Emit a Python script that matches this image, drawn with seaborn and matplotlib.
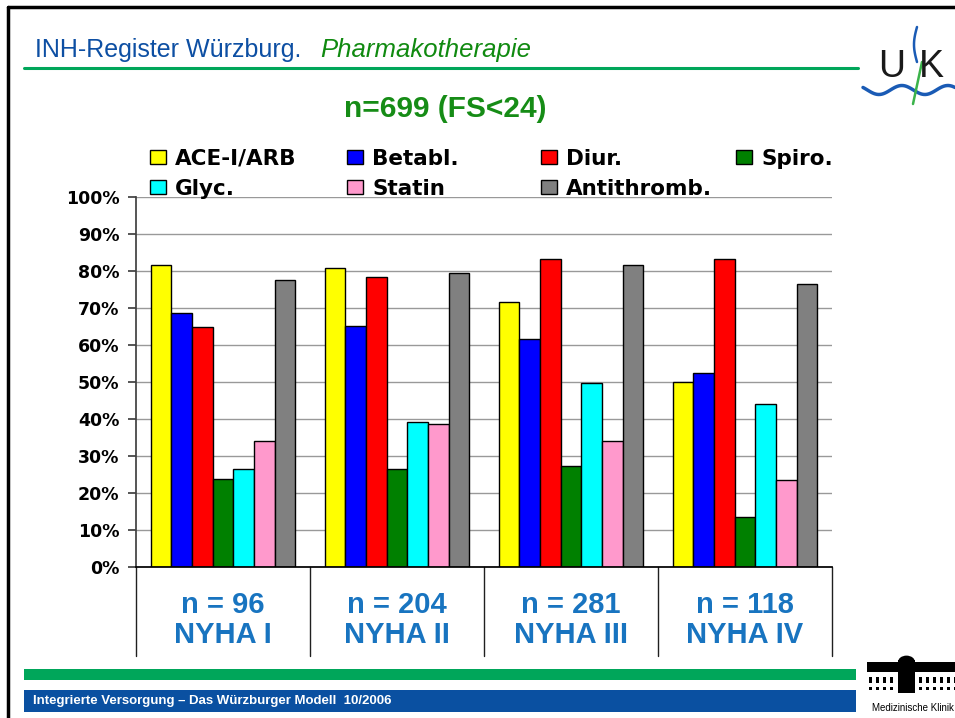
import numpy as np
import pandas as pd
import matplotlib
matplotlib.use("Agg")
import matplotlib.pyplot as plt
import seaborn as sns
from matplotlib.lines import Line2D
from matplotlib.patches import Rectangle, Wedge

# values in percent
groups = ["n = 96\nNYHA I", "n = 204\nNYHA II", "n = 281\nNYHA III", "n = 118\nNYHA IV"]
drugs = ["ACE-I/ARB", "Betabl.", "Diur.", "Spiro.", "Glyc.", "Statin", "Antithromb."]
ace_arb = [81.5, 80.9, 71.7, 50.0]
betabl = [68.6, 65.2, 61.7, 52.4]
diur = [64.8, 78.5, 83.2, 83.2]
spiro = [23.9, 26.4, 27.4, 13.6]
glyc = [26.6, 39.1, 49.7, 44.0]
statin = [34.0, 38.7, 34.0, 23.6]
antithromb = [77.7, 79.4, 81.5, 76.4]
colors = ["#FFFF00", "#0000FF", "#FF0000", "#008000", "#00FFFF", "#FF99CC", "#808080"]

series = [ace_arb, betabl, diur, spiro, glyc, statin, antithromb]
rows = []
for drug, vals in zip(drugs, series):
    for g, v in zip(groups, vals):
        rows.append({"group": g, "drug": drug, "value": v})
df = pd.DataFrame(rows)

sns.set_theme(style="white")
plt.rcParams["font.family"] = ["DejaVu Sans"]
plt.rcParams["text.color"] = "black"
plt.rcParams["ytick.color"] = "black"
plt.rcParams["xtick.color"] = "black"

W, H = 955, 718
fig = plt.figure(figsize=(W / 100, H / 100), dpi=100)
fig.patch.set_facecolor("white")


def fx(px):
    return px / W


def fy(py):
    return 1 - py / H


ax = fig.add_axes([fx(136), fy(567), fx(832) - fx(136), fy(197) - fy(567)])
sns.barplot(data=df, x="group", y="value", hue="drug", order=groups, hue_order=drugs,
            palette=colors, width=0.83, edgecolor="black", linewidth=1,
            saturation=1, ax=ax)
handles, labels = ax.get_legend_handles_labels()
ax.get_legend().remove()

ax.set_ylim(0, 100)
ax.set_xlim(-0.5, 3.5)
ax.set_yticks(np.arange(0, 101, 10))
ax.set_yticklabels([f"{t}%" for t in range(0, 101, 10)], fontsize=12.5, fontweight="bold",
                   family="DejaVu Sans", color="black")
ax.yaxis.grid(True, color="#999999", linewidth=1)
ax.set_axisbelow(True)
ax.set_xlabel("")
ax.set_ylabel("")
for s in ["top", "right"]:
    ax.spines[s].set_visible(False)
ax.spines["left"].set_color("#404040")
ax.spines["bottom"].set_color("black")
ax.tick_params(axis="y", left=True, length=6, color="#404040", pad=6)
ax.tick_params(axis="x", length=0, pad=17)
for t in ax.get_xticklabels():
    t.set_fontsize(21)
    t.set_fontweight("bold")
    t.set_color("#1874C0")
    t.set_family(["Liberation Sans", "DejaVu Sans"])
    t.set_linespacing(1.1)
# separators of the category boxes under the axis
for b in [-0.5, 0.5, 1.5, 2.5, 3.5]:
    ax.plot([b, b], [0, -24], color="#202020", lw=1, clip_on=False)

# legend, four columns placed like on the slide
order = {lab: h for h, lab in zip(handles, labels)}
cols = [(["ACE-I/ARB", "Glyc."], 150), (["Betabl.", "Statin"], 347),
        (["Diur.", "Antithromb."], 541), (["Spiro."], 736)]
for labs, x0 in cols:
    fig.legend([order[l] for l in labs], labs, loc="upper left",
               bbox_to_anchor=(fx(x0), fy(149)), frameon=False,
               prop={"family": "DejaVu Sans", "weight": "bold", "size": 15.5},
               labelcolor="black",
               handlelength=0.72, handleheight=0.62, handletextpad=0.45,
               labelspacing=0.45, borderpad=0, borderaxespad=0)

# slide frame
fig.add_artist(Line2D([fx(8), fx(955)], [fy(7), fy(7)], color="black", lw=2.5))
fig.add_artist(Line2D([fx(8), fx(8)], [fy(7), fy(718)], color="black", lw=2.5))

# header
sans = ["Liberation Sans", "DejaVu Sans"]
fig.text(fx(35), fy(57), "INH-Register Würzburg.", color="#0D4FA3", fontsize=18,
         family=sans, va="baseline")
fig.text(fx(320), fy(57), "Pharmakotherapie", color="#108A10", fontsize=18.5,
         family=sans, style="italic", va="baseline")
fig.add_artist(Line2D([fx(24), fx(858)], [fy(68), fy(68)], color="#00A65A", lw=2.2))
fig.text(fx(445), fy(117), "n=699 (FS<24)", color="#168C16", fontsize=21.5,
         family=sans, weight="bold", ha="center", va="baseline")

# UK logo
fig.text(fx(892), fy(77), "U", fontsize=27, family=sans, color="#1A1A1A", ha="center", va="baseline")
fig.text(fx(931), fy(77), "K", fontsize=27, family=sans, color="#1A1A1A", ha="center", va="baseline")
wx = np.linspace(863, 955, 60)
wy = 90 + 4.5 * np.sin((wx - 863) / 92 * 4 * np.pi - 0.6)
fig.add_artist(Line2D(fx(wx), fy(wy), color="#1A5BB5", lw=2.5))
sy = np.linspace(27, 62, 20)
fig.add_artist(Line2D(fx(917 - 3 * np.sin((sy - 27) / 35 * np.pi)), fy(sy), color="#1A5BB5", lw=1.8))
sy2 = np.linspace(62, 104, 20)
fig.add_artist(Line2D(fx(922 - 9 * (sy2 - 62) / 42), fy(sy2), color="#3BB34A", lw=1.8))

# footer bands
fig.add_artist(Rectangle((fx(24), fy(680)), fx(856) - fx(24), fy(669) - fy(680),
                         color="#00A65A", lw=0))
fig.add_artist(Rectangle((fx(24), fy(712)), fx(856) - fx(24), fy(690) - fy(712),
                         color="#0A50A1", lw=0))
fig.text(fx(33), fy(701), "Integrierte Versorgung – Das Würzburger Modell  10/2006",
         color="white", fontsize=9.5, family=sans, weight="bold", va="center")

# clinic building logo (rough)
fig.add_artist(Rectangle((fx(867), fy(672)), fx(955) - fx(867), fy(662) - fy(672), color="black", lw=0))
fig.add_artist(Rectangle((fx(898), fy(693)), fx(915) - fx(898), fy(660) - fy(693), color="black", lw=0))
fig.add_artist(Wedge((fx(906.5), fy(662)), 8.5 / W, 0, 180, color="black", lw=0))
for wxp in list(range(869, 897, 7)) + list(range(919, 955, 7)):
    fig.add_artist(Rectangle((fx(wxp), fy(683)), 3 / W, 6 / H, color="black", lw=0))
    fig.add_artist(Rectangle((fx(wxp), fy(690)), 3 / W, 3 / H, color="black", lw=0))
fig.text(fx(954), fy(708), "Medizinische Klinik", fontsize=7, family=sans,
         color="black", ha="right", va="center")

fig.savefig("out.png", dpi=100)
